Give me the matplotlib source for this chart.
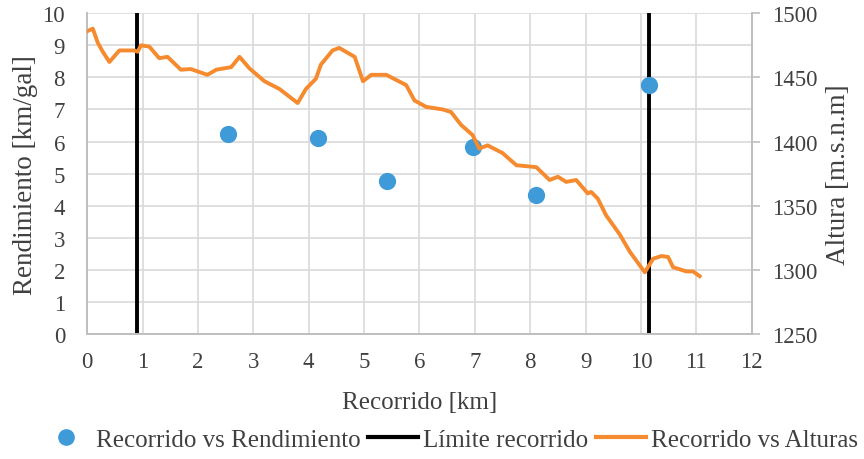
import matplotlib
matplotlib.use("Agg")
import matplotlib.pyplot as plt
from matplotlib.lines import Line2D

plt.rcParams['font.family'] = ['Liberation Serif', 'DejaVu Serif']

# Rendimiento (scatter)
rec_rend = [2.55, 4.16, 5.42, 6.96, 8.10, 10.14]
rendimiento = [6.22, 6.10, 4.78, 5.83, 4.33, 7.75]

# Limites del recorrido
limites = [0.9, 10.15]

# Perfil de alturas
rec_alt = [0.0, 0.1, 0.19, 0.28, 0.4, 0.58, 0.85, 0.91, 0.97, 1.12, 1.3, 1.45,
           1.69, 1.87, 2.17, 2.33, 2.6, 2.75, 2.93, 3.2, 3.47, 3.65, 3.8, 3.95,
           4.13, 4.22, 4.43, 4.55, 4.83, 4.98, 5.13, 5.4, 5.58, 5.76, 5.91, 6.12,
           6.42, 6.57, 6.75, 6.96, 7.08, 7.23, 7.5, 7.75, 8.11, 8.35, 8.5, 8.65,
           8.83, 9.04, 9.1, 9.22, 9.37, 9.61, 9.8, 10.07, 10.22, 10.37, 10.49,
           10.58, 10.82, 10.94, 11.06]
alturas = [1486, 1488, 1477, 1470, 1462, 1471, 1471, 1470, 1475, 1474, 1465, 1466,
           1456, 1456.5, 1452, 1456, 1458, 1466, 1457, 1447, 1441, 1435, 1430, 1441,
           1449, 1460, 1471, 1473, 1466, 1447, 1452, 1452, 1448, 1444, 1432, 1427,
           1425, 1423, 1413, 1405, 1394.5, 1397, 1391, 1381.5, 1380, 1370, 1372.5, 1368.5,
           1370, 1359.5, 1360.7, 1355.5, 1342.5, 1328, 1314, 1298, 1308.6, 1310.7, 1310,
           1302, 1298.7, 1298.7, 1295]

blue = '#3F9BD8'
orange = '#F58A2E'
grid_c = '#D9D9D9'
txt_c = '#404040'
fs = 16.5

fig = plt.figure(figsize=(8.64, 4.60), dpi=100)
ax = fig.add_axes([0.101, 0.272, 0.769, 0.697])
ax2 = ax.twinx()

ax.set_xlim(0, 12)
ax.set_ylim(0, 10)
ax2.set_ylim(1250, 1500)
ax.set_xticks(range(0, 13))
ax.set_yticks(range(0, 11))
ax2.set_yticks(range(1250, 1501, 50))
ax.grid(True, color=grid_c, linewidth=1.2)
ax.set_axisbelow(True)

for a in (ax, ax2):
    for s in a.spines.values():
        s.set_color('#BFBFBF')
        s.set_linewidth(1.2)
    a.spines['top'].set_visible(False)
ax.tick_params(axis='x', length=0, labelsize=fs, labelcolor=txt_c, pad=12)
ax.tick_params(axis='y', length=0, labelsize=fs, labelcolor=txt_c, pad=16)
ax2.tick_params(axis='y', length=6, width=1.2, color='#BFBFBF', labelsize=fs,
                labelcolor=txt_c, pad=9)

ax.scatter(rec_rend, rendimiento, s=130, color=blue, zorder=3)
for xv in limites:
    ax.axvline(xv, color='black', linewidth=2.8, zorder=2)
ax2.plot(rec_alt, alturas, color=orange, linewidth=2.8, zorder=3)

ax.set_xlabel('Recorrido [km]', fontsize=18, color=txt_c, labelpad=14)
ax.set_ylabel('Rendimiento [km/gal]', fontsize=19.5, color=txt_c, labelpad=3)
ax2.set_ylabel('Altura [m.s.n.m]', fontsize=19.5, color=txt_c, labelpad=6)

handles = [
    Line2D([], [], marker='o', linestyle='None', color=blue, markersize=11),
    Line2D([], [], color='black', linewidth=3),
    Line2D([], [], color=orange, linewidth=3),
]
labels = ['Recorrido vs Rendimiento', 'Límite recorrido', 'Recorrido vs Alturas']
fig.legend(handles, labels, loc='center', bbox_to_anchor=(0.52, 0.042), ncol=3,
           frameon=False, fontsize=18, handlelength=2.0, handletextpad=0.2,
           columnspacing=0.3, labelcolor=txt_c)

fig.savefig('out.png', dpi=100)
